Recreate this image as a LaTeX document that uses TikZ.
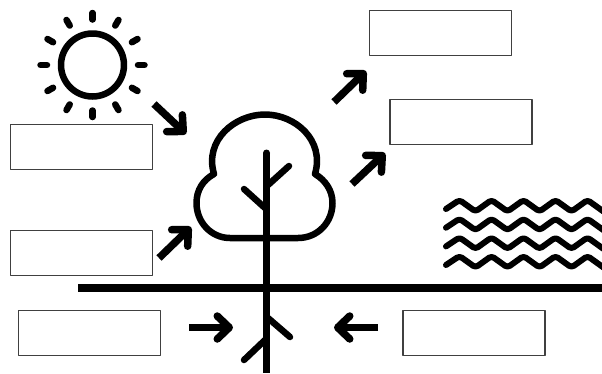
\documentclass[tikz,border=0pt]{standalone}
\usetikzlibrary{arrows.meta}

\begin{document}
\begin{tikzpicture}[x=1pt, y=-1pt, line join=round]
  \tikzstyle{label}=[draw=black!75, line width=1.5pt, fill=white, shape=rectangle,
      minimum width=142pt, minimum height=45pt, inner sep=0pt]
  \tikzstyle{flow}=[line width=7.5pt, -{Straight Barb[round, length=12pt, width=23pt]}]
  \tikzstyle{line}=[line width=6.5pt, line cap=round]
  \tikzstyle{wave}=[line width=6pt, line cap=round, rounded corners=3pt]
  \useasboundingbox (0,0) rectangle (602,373);
% labels
\node[label] (sunlight) at (81.5,147) {};
\node[label] (carbon) at (81.5,253) {};
\node[label] (oxygen) at (440.5,33) {};
\node[label] (vapour) at (461,122) {};
\node[label] (minerals) at (89.5,333) {};
\node[label] (water) at (474,333) {};
% sun
\draw[line] (92.5,65) circle (31.5);
\foreach \a in {0,30,...,330}
  \draw[line] (92.5,65) ++(\a:45.5) -- ++(\a:6.5);
% ground and trunk
\coordinate (west) at (78,288);
\coordinate (east) at (602,288);
\coordinate (top) at (266.5,153);
\coordinate (bottom) at (266.5,373);
\draw[line width=8pt] (west) -- (east);
\draw[line width=7pt] (top) -- (bottom);
\fill (top) circle (3.5);
% crown
\draw[line] (230,238) .. controls (211,238) and (196.5,222) .. (196.5,203)
  .. controls (196.5,190) and (203,180) .. (214,174)
  .. controls (204,140) and (235,114.5) .. (265,114.5)
  .. controls (295,114.5) and (325,140) .. (315,174)
  .. controls (325,180) and (332.5,190) .. (332.5,203)
  .. controls (332.5,222) and (318,238) .. (298,238) -- cycle;
% branches and roots
\draw[line] (289,166) -- (268,185);
\draw[line] (244,189) -- (265,208);
\draw[line] (268,318) -- (290,337);
\draw[line] (244,360) -- (265,340);
% arrows
\coordinate (a1) at (154,104);
\coordinate (a2) at (186,134);
\coordinate (b1) at (159,258);
\coordinate (b2) at (191,227);
\coordinate (c1) at (334,102);
\coordinate (c2) at (366,71);
\coordinate (d1) at (352,184);
\coordinate (d2) at (385,153);
\coordinate (e1) at (189,327.5);
\coordinate (e2) at (233,327.5);
\coordinate (f1) at (378,327.5);
\coordinate (f2) at (334,327.5);
\path
(a1) edge [flow] (a2)
(b1) edge [flow] (b2)
(c1) edge [flow] (c2)
(d1) edge [flow] (d2)
(e1) edge [flow] (e2)
(f1) edge [flow] (f2);
% water
\foreach \y in {0,18.7,37.4,56}
  \draw[wave] (446,209+\y) -- (459.5,200+\y) -- (475.5,211.5+\y) -- (491.5,200+\y)
    -- (507.5,211.5+\y) -- (523.5,200+\y) -- (539.5,211.5+\y) -- (555.5,200+\y)
    -- (571.5,211.5+\y) -- (587.5,200+\y) -- (603.5,211.5+\y);
\end{tikzpicture}
\end{document}
